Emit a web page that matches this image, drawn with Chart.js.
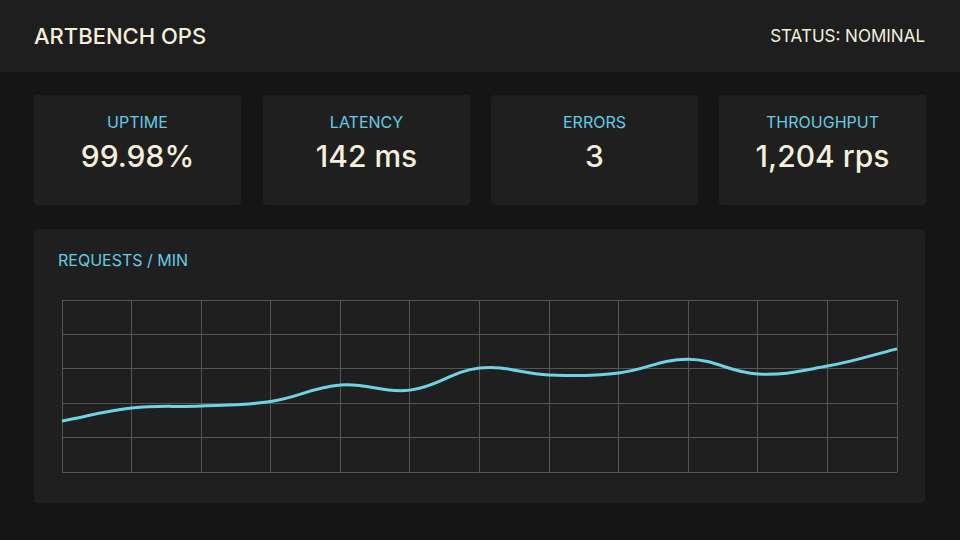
<!DOCTYPE html>
<html><head><meta charset="utf-8">
<script src="https://cdn.jsdelivr.net/npm/chart.js@4"></script>
<style>
body{margin:0;width:960px;height:540px;background:#151515;font-family:Inter,"Noto Sans",sans-serif;position:relative;overflow:hidden}
.hdr{position:absolute;left:0;top:0;width:960px;height:72px;background:#1e1e1e}
.t{position:absolute;color:#f5efdc}
.card{position:absolute;top:95px;width:207px;height:110px;background:#1f1f1f;border-radius:4px;text-align:center}
.card .l{position:absolute;top:17px;width:100%;color:#62cde3;font-size:16px}
.card .v{position:absolute;top:43px;width:100%;color:#f5efdc;font-size:30px;font-weight:500}
.panel{position:absolute;left:34px;top:229px;width:891px;height:274px;background:#1f1f1f;border-radius:4px}
#wrap{position:absolute;left:57px;top:295px;width:845px;height:182px}
</style></head><body>
<div class="hdr"></div>
<div class="t" style="left:34px;top:23px;font-size:22px;font-weight:500">ARTBENCH OPS</div>
<div class="t" style="right:35px;top:26px;font-size:17px">STATUS: NOMINAL</div>
<div id="cards"></div>
<div class="panel"></div>
<div class="t" style="left:58px;top:250px;font-size:16px;color:#62cde3">REQUESTS / MIN</div>
<div id="wrap"><canvas id="c"></canvas></div>
<script>
const cardLabels=["UPTIME","LATENCY","ERRORS","THROUGHPUT"];
const cardValues=["99.98%","142 ms","3","1,204 rps"];
const minutes=["1","2","3","4","5","6","7","8","9","10","11","12","13"];
const requests=[1.48,1.86,1.92,2.05,2.53,2.38,3.02,2.82,2.88,3.28,2.85,3.08,3.58];
const lefts=[34,263,491,719];
const cc=document.getElementById('cards');
cardLabels.forEach((l,i)=>{const d=document.createElement('div');d.className='card';d.style.left=lefts[i]+'px';
d.innerHTML='<div class="l">'+l+'</div><div class="v">'+cardValues[i]+'</div>';cc.appendChild(d);});
new Chart(document.getElementById('c'),{type:'line',
data:{labels:minutes,datasets:[{data:requests,borderColor:'#6fd3e6',borderWidth:3,pointRadius:0,tension:0.4,fill:false}]},
options:{responsive:true,maintainAspectRatio:false,animation:false,layout:{padding:5},
plugins:{legend:{display:false},tooltip:{enabled:false}},
scales:{x:{offset:false,ticks:{display:false},border:{display:false},grid:{color:'#555',lineWidth:1,drawTicks:false}},
y:{min:0,max:5,ticks:{display:false,stepSize:1},border:{display:false},grid:{color:'#555',lineWidth:1,drawTicks:false}}}}});
</script></body></html>
